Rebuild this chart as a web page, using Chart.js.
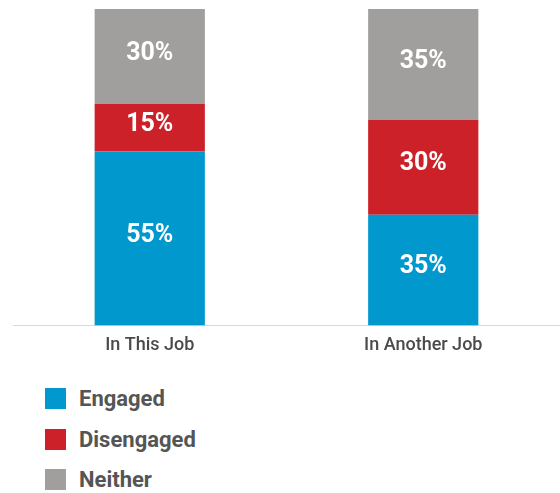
<!DOCTYPE html>
<html>
<head>
<meta charset="utf-8">
<script src="https://cdn.jsdelivr.net/npm/chart.js@4"></script>
<style>
  body { margin: 0; background: #fff; font-family: Roboto, sans-serif; }
  #wrap { position: relative; width: 560px; height: 357px; }
  .legend { position: absolute; left: 45px; top: 388px; }
  .legend div { height: 21px; margin-bottom: 19.5px; display: flex; align-items: center;
    font-weight: bold; font-size: 22px; color: #555; }
  .legend span { display: inline-block; width: 21px; height: 21px; margin-right: 13px; }
</style>
</head>
<body>
<div id="wrap"><canvas id="jobChart"></canvas></div>
<div class="legend" id="legend"></div>
<script>
const categories = ["In This Job", "In Another Job"];
const engaged = [55, 35];
const disengaged = [15, 30];
const neither = [30, 35];
const seriesNames = ["Engaged", "Disengaged", "Neither"];
const seriesColors = ["#0098cd", "#cc2128", "#a09f9e"];

// write the percentage in the middle of each segment
const segmentLabels = {
    id: "segmentLabels",
    afterDatasetsDraw(chart) {
        const ctx = chart.ctx;
        ctx.save();
        ctx.fillStyle = "#fff";
        ctx.font = "bold 25px Roboto";
        ctx.textAlign = "center";
        ctx.textBaseline = "middle";
        chart.data.datasets.forEach((ds, i) => {
            chart.getDatasetMeta(i).data.forEach((bar, j) => {
                const mid = (bar.y + bar.base) / 2;
                ctx.fillText(ds.data[j] + "%", bar.x, mid - 3);
            });
        });
        ctx.restore();
    }
};

const ctx = document.getElementById("jobChart").getContext("2d");
new Chart(ctx, {
    type: "bar",
    data: {
        labels: categories,
        datasets: [engaged, disengaged, neither].map((d, i) => ({
            label: seriesNames[i],
            data: d,
            backgroundColor: seriesColors[i],
            barPercentage: 0.806,
            categoryPercentage: 0.5
        }))
    },
    options: {
        responsive: true,
        maintainAspectRatio: false,
        animation: false,
        layout: { padding: { top: 9, left: 13, right: 0, bottom: 0 } },
        plugins: {
            legend: { display: false },
            tooltip: { enabled: false }
        },
        scales: {
            x: {
                stacked: true,
                grid: { display: false },
                border: { color: "#d9d9d9", width: 1 },
                ticks: { color: "#4a4a4a", font: { family: "Roboto", size: 18, weight: "500" }, padding: 1 }
            },
            y: {
                stacked: true,
                display: false,
                min: 0,
                max: 100
            }
        }
    },
    plugins: [segmentLabels]
});

// legend list under the chart
const legend = document.getElementById("legend");
seriesNames.forEach((name, i) => {
    const row = document.createElement("div");
    row.innerHTML = '<span style="background:' + seriesColors[i] + '"></span>' + name;
    legend.appendChild(row);
});
</script>
</body>
</html>
